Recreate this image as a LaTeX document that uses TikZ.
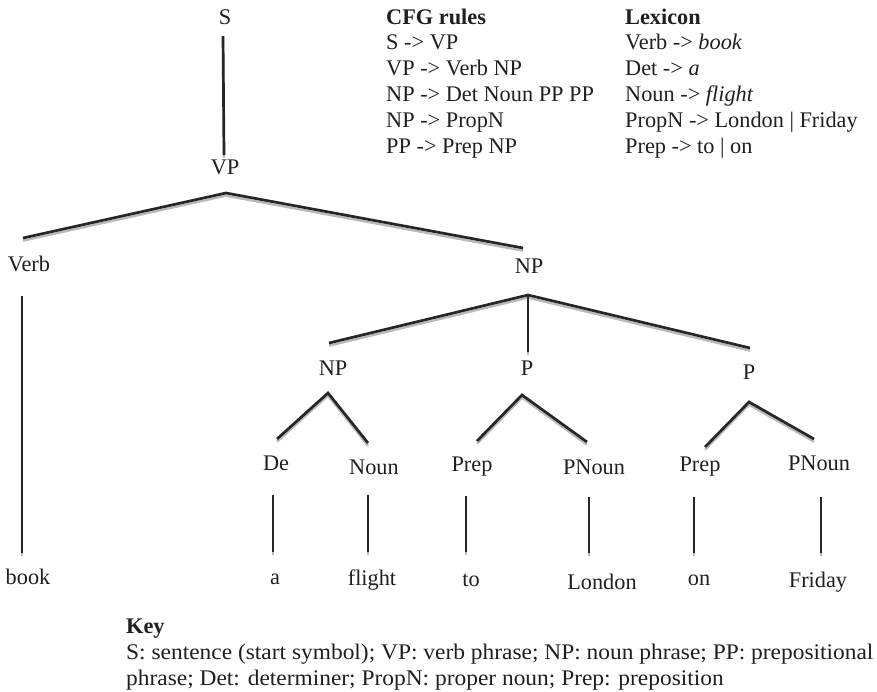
\documentclass[tikz,border=0pt]{standalone}
\usepackage{fontspec}
\setmainfont{Liberation Serif}
\begin{document}
\begin{tikzpicture}[x=1pt,y=-1pt,
  lbl/.style={inner sep=0pt, text=black!88, font=\fontsize{22.3}{25.8}\selectfont},
  txt/.style={inner sep=0pt, anchor=base west, text=black!88, font=\fontsize{22.3}{25.8}\selectfont},
  branch/.style={line width=2.7pt, draw=black!85,
    preaction={draw=gray!55, line width=2.3pt, transform canvas={yshift=-2.7pt}}}]
\useasboundingbox (0,0) rectangle (877,691);
% labels
\node[lbl] (S) at (225,17) {S};
\node[lbl] (VP) at (225,167) {VP};
\node[lbl] (Verb) at (29,264) {Verb};
\node[lbl] (NP) at (529,266) {NP};
\node[lbl] (NPb) at (333,368) {NP};
\node[lbl] (Pa) at (527,368) {P};
\node[lbl] (Pb) at (749,372) {P};
\node[lbl] (De) at (276,463) {De};
\node[lbl] (Noun) at (374,467) {Noun};
\node[lbl] (Prepa) at (472,467) {Prep};
\node[lbl] (PNouna) at (594,467) {PNoun};
\node[lbl] (Prepb) at (700,467) {Prep};
\node[lbl] (PNounb) at (819,463) {PNoun};
\node[lbl] (book) at (28,577) {book};
\node[lbl] (a) at (275,579) {a};
\node[lbl] (flight) at (372,580) {flight};
\node[lbl] (to) at (471,580) {to};
\node[lbl] (London) at (602,582) {London};
\node[lbl] (on) at (699,580) {on};
\node[lbl] (Friday) at (818,582) {Friday};
% branch points
\coordinate (s1) at (223,36);   \coordinate (s2) at (224,155);
\coordinate (vpA) at (226,193); \coordinate (vpL) at (23,238); \coordinate (vpR) at (523,248);
\coordinate (vb1) at (22,296);  \coordinate (vb2) at (22,553);
\coordinate (npA) at (528,295); \coordinate (npL) at (329,343); \coordinate (npM) at (528,352); \coordinate (npR) at (750,348);
\coordinate (nbA) at (328,393); \coordinate (nbL) at (277,439); \coordinate (nbR) at (368,443);
\coordinate (paA) at (522,395); \coordinate (paL) at (477,441); \coordinate (paR) at (587,442);
\coordinate (pbA) at (749,402); \coordinate (pbL) at (705,447); \coordinate (pbR) at (814,439);
\coordinate (l1a) at (273,495); \coordinate (l1b) at (273,552);
\coordinate (l2a) at (368,495); \coordinate (l2b) at (368,552);
\coordinate (l3a) at (466,496); \coordinate (l3b) at (466,552);
\coordinate (l4a) at (589,497); \coordinate (l4b) at (589,553);
\coordinate (l5a) at (694,497); \coordinate (l5b) at (694,553);
\coordinate (l6a) at (821,497); \coordinate (l6b) at (821,553);
% branches
\draw[branch] (s1) -- (s2);
\draw[branch] (vpL) -- (vpA) -- (vpR);
\draw[branch] (vb1) -- (vb2);
\draw[branch] (npL) -- (npA) -- (npR);
\draw[branch] (npA) -- (npM);
\draw[branch] (nbL) -- (nbA) -- (nbR);
\draw[branch] (paL) -- (paA) -- (paR);
\draw[branch] (pbL) -- (pbA) -- (pbR);
\draw[branch] (l1a) -- (l1b);
\draw[branch] (l2a) -- (l2b);
\draw[branch] (l3a) -- (l3b);
\draw[branch] (l4a) -- (l4b);
\draw[branch] (l5a) -- (l5b);
\draw[branch] (l6a) -- (l6b);
% rules
\node[txt] (cfg0) at (386,24) {\textbf{CFG rules}};
\node[txt] (cfg1) at (386,49.8) {S -> VP};
\node[txt] (cfg2) at (386,75.6) {VP -> Verb NP};
\node[txt] (cfg3) at (386,101.4) {NP -> Det Noun PP PP};
\node[txt] (cfg4) at (386,127.2) {NP -> PropN};
\node[txt] (cfg5) at (386,153) {PP -> Prep NP};
\node[txt] (lex0) at (625,24) {\textbf{Lexicon}};
\node[txt] (lex1) at (625,49.8) {Verb -> \textit{book}};
\node[txt] (lex2) at (625,75.6) {Det -> \textit{a}};
\node[txt] (lex3) at (625,101.4) {Noun -> \textit{flight}};
\node[txt] (lex4) at (625,127.2) {PropN -> London | Friday};
\node[txt] (lex5) at (625,153) {Prep -> to | on};
% key
\node[txt] (key0) at (126,633) {\textbf{Key}};
\node[txt] (key1) at (126,659) {\scalebox{1.05}[1]{S: sentence (start symbol); VP: verb phrase; NP: noun phrase; PP: prepositional}};
\node[txt] (key2) at (126,685) {\scalebox{1.05}[1]{phrase; Det: determiner; PropN: proper noun; Prep: preposition}};
\end{tikzpicture}
\end{document}
